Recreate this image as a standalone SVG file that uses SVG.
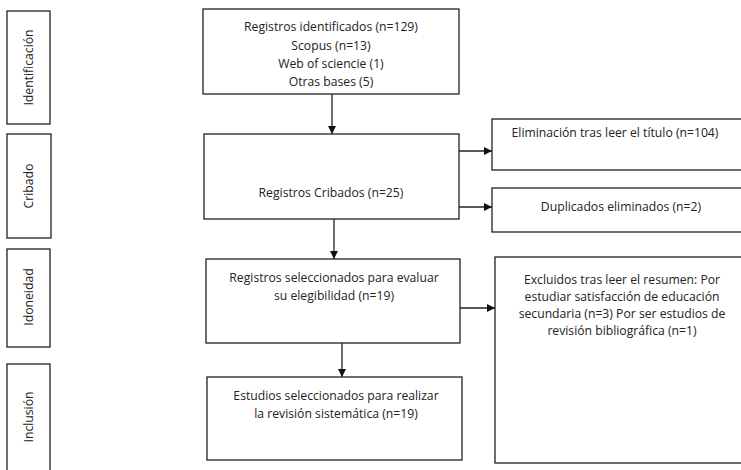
<svg xmlns="http://www.w3.org/2000/svg" width="741" height="470" viewBox="0 0 741 470">
<defs>
<marker id="ah" viewBox="0 0 10 10" refX="10" refY="5" markerWidth="8" markerHeight="8" markerUnits="userSpaceOnUse" orient="auto">
<path d="M0,0 L10,5 L0,10 z" fill="#111"/>
</marker>
</defs>
<style>
.box{fill:#fff;stroke:#222;stroke-width:1.3}
.t{font-family:"Open Sans","Liberation Sans",sans-serif;font-size:12.2px;fill:#222;text-anchor:middle}
.ca{fill:none;stroke:#222;stroke-width:1.3;marker-end:url(#ah)}
</style>
<rect width="741" height="470" fill="#fff"/>
<g id="stage-identificacion">
<rect class="box" x="7" y="11" width="43" height="113"/>
<text class="t" transform="translate(33,67.5) rotate(-90)">Identificación</text>
</g>
<g id="stage-cribado">
<rect class="box" x="7" y="134" width="44" height="104"/>
<text class="t" transform="translate(33,186) rotate(-90)">Cribado</text>
</g>
<g id="stage-idoneidad">
<rect class="box" x="7" y="249" width="43" height="98"/>
<text class="t" transform="translate(33,297) rotate(-90)">Idoneidad</text>
</g>
<g id="stage-inclusion">
<rect class="box" x="7" y="364" width="43" height="110"/>
<text class="t" transform="translate(33,417) rotate(-90)">Inclusión</text>
</g>
<g id="identificados">
<rect class="box" x="203" y="9" width="256" height="85"/>
<text class="t" x="331" y="31">Registros identificados (n=129)</text>
<text class="t" x="331" y="50">Scopus (n=13)</text>
<text class="t" x="331" y="68">Web of sciencie (1)</text>
<text class="t" x="331" y="86">Otras bases (5)</text>
</g>
<g id="cribados">
<rect class="box" x="204" y="134" width="255" height="85"/>
<text class="t" x="331" y="197">Registros Cribados (n=25)</text>
</g>
<g id="eliminacion">
<rect class="box" x="492" y="119" width="260" height="51"/>
<text class="t" x="615" y="137">Eliminación tras leer el título (n=104)</text>
</g>
<g id="duplicados">
<rect class="box" x="492" y="188" width="260" height="44"/>
<text class="t" x="621" y="211">Duplicados eliminados (n=2)</text>
</g>
<g id="seleccionados">
<rect class="box" x="206" y="259" width="254" height="84"/>
<text class="t" x="334" y="282">Registros seleccionados para evaluar</text>
<text class="t" x="334" y="300">su elegibilidad (n=19)</text>
</g>
<g id="excluidos">
<rect class="box" x="495" y="257" width="260" height="206"/>
<text class="t" x="622" y="284">Excluidos tras leer el resumen: Por</text>
<text class="t" x="622" y="301">estudiar satisfacción de educación</text>
<text class="t" x="622" y="318">secundaria (n=3) Por ser estudios de</text>
<text class="t" x="622" y="335">revisión bibliográfica (n=1)</text>
</g>
<g id="incluidos">
<rect class="box" x="207" y="377" width="255" height="83"/>
<text class="t" x="336" y="400">Estudios seleccionados para realizar</text>
<text class="t" x="336" y="418">la revisión sistemática (n=19)</text>
</g>
<g id="connectors">
<line class="ca" x1="332" y1="94" x2="332" y2="134"/>
<line class="ca" x1="459" y1="151" x2="492" y2="151"/>
<line class="ca" x1="459" y1="207" x2="492" y2="207"/>
<line class="ca" x1="334" y1="219" x2="334" y2="259"/>
<line class="ca" x1="460" y1="308" x2="495" y2="308"/>
<line class="ca" x1="342" y1="343" x2="342" y2="377"/>
</g>
</svg>
